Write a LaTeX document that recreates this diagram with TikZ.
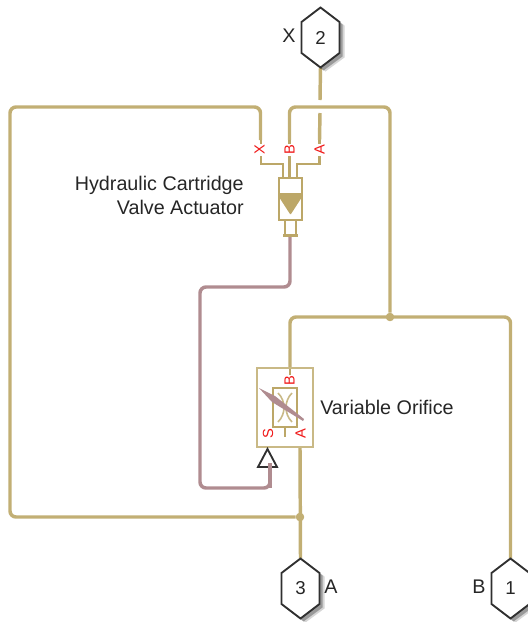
\documentclass[tikz,border=0pt]{standalone}
\usepackage{fontspec}
\setmainfont{Liberation Sans}
\usetikzlibrary{calc}
\definecolor{wirecol}{HTML}{C2AF74}
\definecolor{sigcol}{HTML}{B08C90}
\definecolor{blockcol}{HTML}{BCA768}
\definecolor{portred}{HTML}{F01818}
\definecolor{hexcol}{HTML}{303030}
\newcommand{\hexport}[1]{%
  \fill[black,opacity=.16,line join=round] ($(#1)+(5,3)$) ++(-19,-15) -- ++(19,-15) -- ++(19,15) -- ++(0,32) -- ++(-19,14) -- ++(-19,-14) -- cycle;
  \fill[black,opacity=.28,line join=round] ($(#1)+(3,2)$) ++(-19,-15) -- ++(19,-15) -- ++(19,15) -- ++(0,32) -- ++(-19,14) -- ++(-19,-14) -- cycle;
  \draw[hexline] (#1) ++(-19,-15.5) -- ++(19,-14.5) -- ++(19,14.5) -- ++(0,31) -- ++(-19,14.5) -- ++(-19,-14.5) -- cycle;
}
\begin{document}
\begin{tikzpicture}[x=0.75pt,y=-0.75pt,
  wire/.style={draw=wirecol,line width=2.6pt,rounded corners=4.5pt},
  sig/.style={draw=sigcol,line width=2.6pt,rounded corners=4.5pt},
  blockline/.style={draw=blockcol,line width=1.7pt},
  thinline/.style={draw=blockcol!80,line width=1.2pt},
  hexline/.style={draw=hexcol,line width=1.4pt,fill=white,line join=miter},
  porthex/.style={inner sep=0pt,minimum width=28.5pt,minimum height=45pt,font=\fontsize{14}{14}\selectfont,text=black!85},
  lab/.style={inner sep=0pt,font=\fontsize{14.8}{18.6}\selectfont,text=black!85},
  plab/.style={inner sep=0.6pt,fill=white,rotate=90,font=\fontsize{11}{11}\selectfont,text=portred},
  dot/.style={circle,fill=wirecol,inner sep=0pt,minimum size=6.2pt}]
\clip (0,0) rectangle (528,622);

\coordinate (cTop) at (320.5,37.5);
\coordinate (cThree) at (300.5,588.5);
\coordinate (cOne) at (510.5,588.5);
\node[dot] (j1) at (390,317) {};
\node[dot] (j2) at (300,517) {};
\node[inner sep=0pt,minimum width=17pt,minimum height=31.5pt] (act) at (290.5,199) {};
\node[inner sep=0pt,minimum width=42pt,minimum height=59.25pt] (orf) at (285,407.5) {};
\node[inner sep=0pt,minimum width=18pt,minimum height=29.25pt] (ori) at (285,407.5) {};
\coordinate (aX) at (260.5,140);
\coordinate (aB) at (289.5,140);
\coordinate (aA) at (319.5,140);
\coordinate (gapA) at (320,100);
\coordinate (gapB) at (320,113);
\coordinate (oB) at (290,369);
\coordinate (oA) at (300,447);
\coordinate (sigEnd) at (270,463);
\coordinate (actBot) at (290,236);

\node[porthex] (p2) at (cTop) {};
\node[porthex] (p3) at (cThree) {};
\node[porthex] (p1) at (cOne) {};

\draw[wire] (p2.south) -- (gapA);
\draw[wire] (gapB) -- (aA);
\draw[wire] (aB) -- (289.5,107) -- (390,107) -- (j1);
\draw[wire] (oB) -- (290,317) -- (510.5,317) -- (p1.north);
\draw[wire] (aX) -- (260.5,107) -- (10,107) -- (10,517) -- (j2);
\draw[wire] (oA) -- (p3.north);
\draw[sig] (actBot) -- (290,287) -- (200,287) -- (200,488) -- (270,488) -- (sigEnd);

% actuator block
\draw[blockline] (261,140) -- (261,164) -- (283,164) -- (283,178);
\draw[blockline] (289.5,140) -- (289.5,178);
\draw[blockline] (319.5,140) -- (319.5,164) -- (297,164) -- (297,178);
\draw[blockline,fill=white] (act.north west) rectangle (act.south east);
\fill[blockcol] (279,193) -- (302,193) -- (302,197) -- (291,214) -- (290,214) -- (279,197) -- cycle;
\draw[blockline] (285,220) -- (285,235) (296,220) -- (296,235);
\draw[blockline] (283,235.5) -- (298,235.5);

% orifice block
\draw[thinline,fill=white] (orf.north west) rectangle (orf.south east);
\draw[blockline] (290,369) -- (290,388);
\draw[blockline] (285,427) -- (285,437);
\draw[blockline] (ori.north west) rectangle (ori.south east);
\draw[thinline] (278,393) .. controls (286,401) and (286,414) .. (278,422);
\draw[thinline] (292,393) .. controls (284,401) and (284,414) .. (292,422);
\fill[sigcol] (259,388) -- (275,396) -- (304,419) -- (303,421) -- (272,402) -- cycle;
\draw[draw=hexcol,line width=1.4pt,fill=white,line join=miter] (267.5,449) -- (277,467) -- (258,467) -- cycle;
\draw[sig] (sigEnd) -- (270,488);

% port texts
\node[plab] (tX) at (259.5,150) {X};
\node[plab] (tB) at (289.5,150) {B};
\node[plab] (tA) at (319.5,150) {A};
\node[plab] (oBt) at (289.5,381) {B};
\node[plab,fill=none] (oS) at (268,434) {S};
\node[plab,fill=none] (oAt) at (300.5,434) {A};

% hexagon ports
\hexport{cTop}
\hexport{cThree}
\hexport{cOne}
\node[porthex] (t2) at (cTop) {2};
\node[porthex] (t3) at (cThree) {3};
\node[porthex] (t1) at (cOne) {1};
\node[lab] (lx) at (289,36) {X};
\node[lab] (la) at (331,587) {A};
\node[lab] (lb) at (479,587) {B};

% block names
\node[lab,align=right,anchor=east] (n1) at (244,195.5) {Hydraulic Cartridge\\Valve Actuator};
\node[lab,anchor=west] (n2) at (320,407) {Variable Orifice};

\node[dot] at (j1) {};
\node[dot] at (j2) {};
\end{tikzpicture}
\end{document}
